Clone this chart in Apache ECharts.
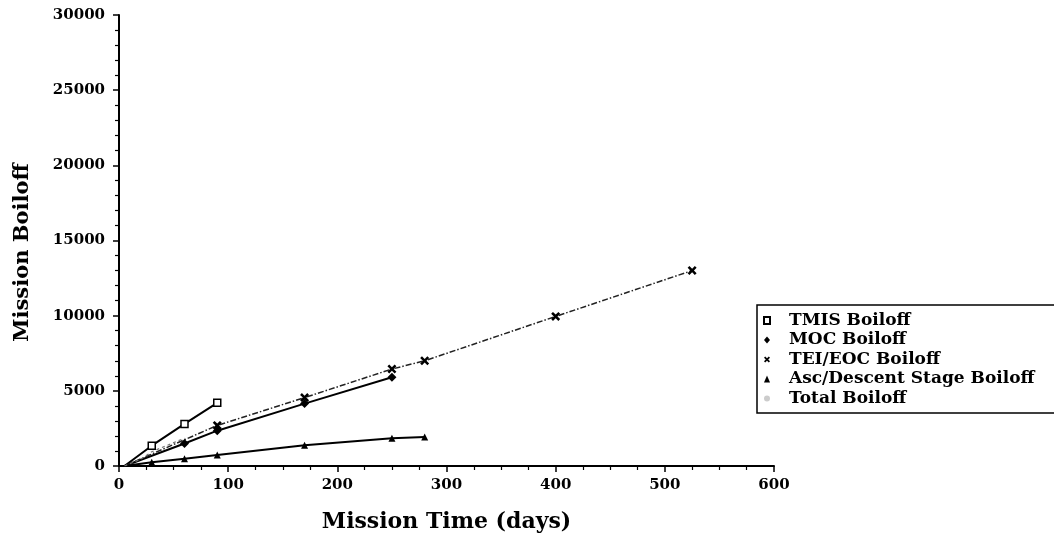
<!DOCTYPE html>
<html>
<head>
<meta charset="utf-8">
<script src="https://cdn.jsdelivr.net/npm/echarts@6/dist/echarts.min.js"></script>
<style>html,body{margin:0;padding:0;background:#fff}#c{width:1054px;height:556px}</style>
</head>
<body>
<div id="c"></div>
<script>
// Data (x: mission time in days, y: boiloff)
var tmis = [[5,0],[30,1350],[60,2800],[90,4200]];
var moc = [[5,0],[60,1500],[90,2350],[170,4150],[250,5900]];
var teiEoc = [[5,0],[90,2700],[170,4550],[250,6450],[280,7000],[400,9950],[525,13000]];
var ascDescent = [[5,0],[30,250],[60,480],[90,730],[170,1380],[250,1850],[280,1930]];
var total = [[5,0],[20,450],[30,950],[60,1850]];
var seriesNames = ['TMIS Boiloff','MOC Boiloff','TEI/EOC Boiloff','Asc/Descent Stage Boiloff','Total Boiloff'];

var xPath = 'path://M0,2L2,0L5,3L8,0L10,2L7,5L10,8L8,10L5,7L2,10L0,8L3,5Z';
function pts(arr){ return arr.map(function(p,i){ return i===0 ? {value:p, symbol:'none'} : {value:p}; }); }

var serifB = 'DejaVu Serif';
var chart = echarts.init(document.getElementById('c'), null, {renderer:'canvas'});
chart.setOption({
  animation:false,
  backgroundColor:'#fff',
  grid:{left:119, top:15, width:655, height:451},
  xAxis:{
    type:'value', min:0, max:600, interval:100,
    name:'Mission Time (days)', nameLocation:'middle', nameGap:45,
    nameTextStyle:{fontFamily:serifB, fontSize:22, fontWeight:'bold', color:'#000'},
    axisLine:{lineStyle:{color:'#000', width:2}},
    axisTick:{show:true, length:6, lineStyle:{color:'#000', width:1.5}},
    minorTick:{show:true, splitNumber:4, length:4, lineStyle:{color:'#000', width:1.2}},
    axisLabel:{fontFamily:serifB, fontSize:15, fontWeight:'bold', color:'#000', margin:12},
    splitLine:{show:false}
  },
  yAxis:{
    type:'value', min:0, max:30000, interval:5000,
    name:'Mission Boiloff', nameLocation:'middle', nameGap:86,
    nameTextStyle:{fontFamily:serifB, fontSize:21, fontWeight:'bold', color:'#000', padding:[0,24,0,0]},
    axisLine:{show:true, lineStyle:{color:'#000', width:2}},
    axisTick:{show:true, length:6, lineStyle:{color:'#000', width:1.5}},
    minorTick:{show:true, splitNumber:5, length:4, lineStyle:{color:'#000', width:1.2}},
    axisLabel:{fontFamily:serifB, fontSize:15, fontWeight:'bold', color:'#000', margin:14,
               formatter:function(v){ return String(v); }},
    splitLine:{show:false}
  },
  legend:{
    orient:'vertical', left:757, top:305,
    padding:[7,40,6,6],
    borderColor:'#000', borderWidth:1.5,
    itemWidth:6, itemHeight:7, itemGap:2.5,
    textStyle:{fontFamily:serifB, fontSize:17, fontWeight:'bold', color:'#000', lineHeight:17, padding:[0,0,0,14]},
    data:[
      {name:seriesNames[0], icon:'rect'},
      {name:seriesNames[1], icon:'diamond'},
      {name:seriesNames[2], icon:xPath},
      {name:seriesNames[3], icon:'triangle'},
      {name:seriesNames[4], icon:'circle', itemStyle:{color:'#ccc'}}
    ]
  },
  series:[
    {name:seriesNames[0], type:'line', data:pts(tmis), symbol:'rect', symbolSize:7,
     itemStyle:{color:'#fff', borderColor:'#000', borderWidth:1.5},
     lineStyle:{color:'#000', width:2}},
    {name:seriesNames[1], type:'line', data:pts(moc), symbol:'diamond', symbolSize:9,
     itemStyle:{color:'#000'}, lineStyle:{color:'#000', width:2}},
    {name:seriesNames[2], type:'line', data:pts(teiEoc), symbol:xPath, symbolSize:9,
     itemStyle:{color:'#000'}, lineStyle:{color:'#222', width:1.5, type:[6,2,1.5,2]}},
    {name:seriesNames[3], type:'line', data:pts(ascDescent), symbol:'triangle', symbolSize:7,
     itemStyle:{color:'#000'}, lineStyle:{color:'#000', width:2}},
    {name:seriesNames[4], type:'line', data:pts(total), symbol:'none',
     itemStyle:{color:'#999'}, lineStyle:{color:'#777', width:1.2, type:[3,3]}}
  ]
});
</script>
</body>
</html>
